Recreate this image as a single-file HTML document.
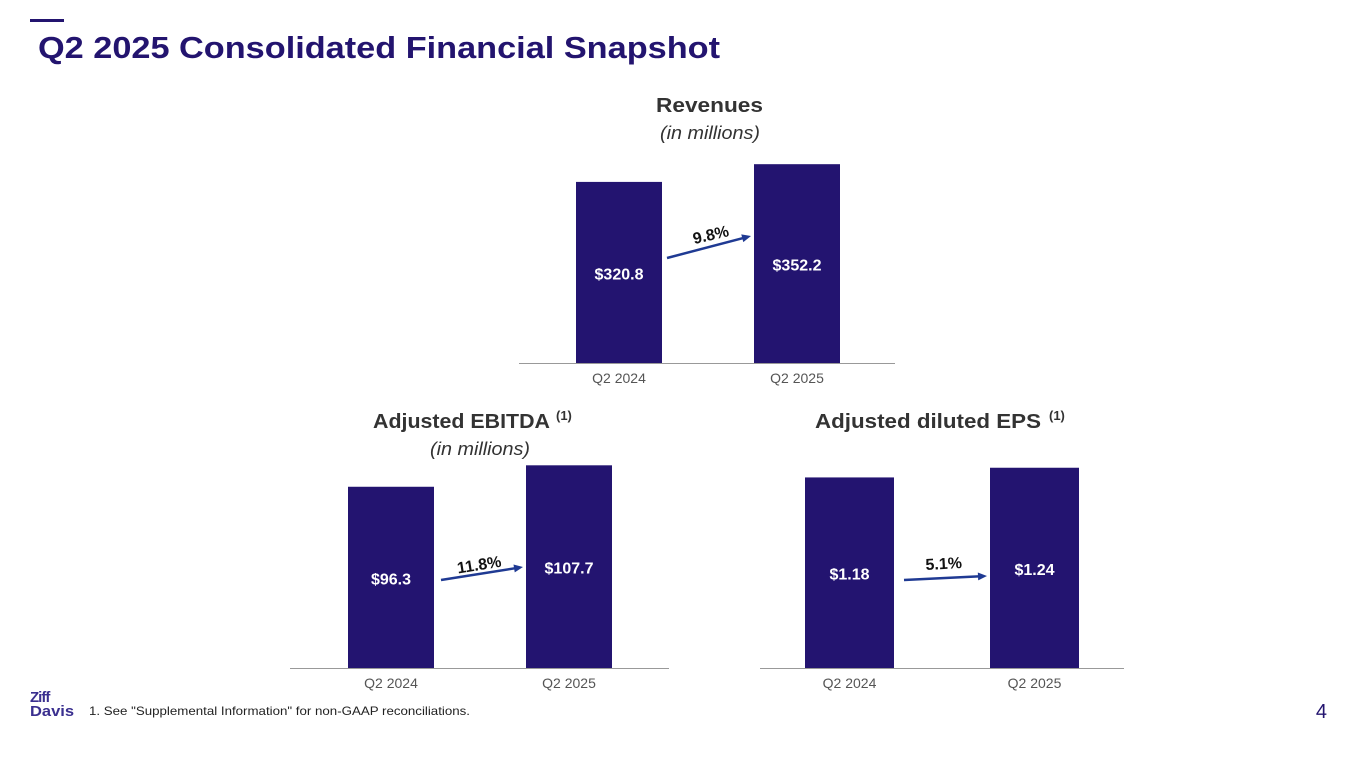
<!DOCTYPE html>
<html><head><meta charset="utf-8"><style>
body{margin:0;width:1365px;height:770px;background:#fff;overflow:hidden;font-family:"Liberation Sans",Arial,sans-serif}
svg{display:block}
svg text{font-family:"Liberation Sans",Arial,sans-serif}
</style></head><body>
<svg id="s" width="1365" height="770" xmlns="http://www.w3.org/2000/svg">
<rect x="30" y="19" width="34" height="3" fill="#23146f"/>
<text x="38" y="58" font-size="31" font-weight="bold" fill="#23146f" textLength="682" lengthAdjust="spacingAndGlyphs">Q2 2025 Consolidated Financial Snapshot</text>
<text x="656" y="112" font-size="20" font-weight="bold" fill="#333" textLength="107" lengthAdjust="spacingAndGlyphs">Revenues</text>
<text x="660" y="139" font-size="18" font-style="italic" fill="#333" textLength="100" lengthAdjust="spacingAndGlyphs">(in millions)</text>
<text x="373" y="428" font-size="20" font-weight="bold" fill="#333"><tspan textLength="177" lengthAdjust="spacingAndGlyphs">Adjusted EBITDA</tspan><tspan x="556" font-size="13" dy="-8">(1)</tspan></text>
<text x="430" y="455" font-size="18" font-style="italic" fill="#333" textLength="100" lengthAdjust="spacingAndGlyphs">(in millions)</text>
<text x="815" y="428" font-size="20" font-weight="bold" fill="#333"><tspan textLength="226" lengthAdjust="spacingAndGlyphs">Adjusted diluted EPS</tspan><tspan x="1049" font-size="13" dy="-8">(1)</tspan></text>
<text x="30" y="702" font-size="15" font-weight="bold" fill="#3a2f8f" letter-spacing="-1">Ziff</text>
<text x="30" y="716" font-size="15" font-weight="bold" fill="#3a2f8f" textLength="44" lengthAdjust="spacingAndGlyphs">Davis</text>
<text x="89" y="715" font-size="12" fill="#222" textLength="381" lengthAdjust="spacingAndGlyphs">1.  See "Supplemental Information" for non-GAAP reconciliations.</text>
<text x="1327" y="718" text-anchor="end" font-size="20" fill="#23146f">4</text>
<g id="charts"></g>
</svg>
<script>
const categories = ["Q2 2024","Q2 2025"];
const revenueValues = [320.8, 352.2];
const revenueLabels = ["$320.8","$352.2"];
const ebitdaValues = [96.3, 107.7];
const ebitdaLabels = ["$96.3","$107.7"];
const epsValues = [1.18, 1.24];
const epsLabels = ["$1.18","$1.24"];
const growthLabels = ["9.8%","11.8%","5.1%"];

const NS="http://www.w3.org/2000/svg";
const root=document.getElementById('charts');
function mk(tag,attrs,parent){const e=document.createElementNS(NS,tag);for(const k in attrs)e.setAttribute(k,attrs[k]);(parent||root).appendChild(e);return e;}

function drawChart(name,vals,labels,growth,cfg){
  const g=mk('g',{});
  
  
  const y=v=>cfg.base - v*cfg.scale;
  const ax=mk('line',{x1:cfg.ax0,x2:cfg.ax1,y1:cfg.base+0.5,y2:cfg.base+0.5,stroke:'#999','stroke-width':1},g);
  
  
  vals.forEach((v,i)=>{
    const x=cfg.bx[i], top=y(v);
    const r=mk('rect',{x:x,y:top,width:cfg.bw,height:cfg.base-top,fill:'#231470'},g);
    
    
    const t=mk('text',{x:x+cfg.bw/2,y:(top+cfg.base)/2+7,'text-anchor':'middle','font-size':16,'font-weight':'bold',fill:'#fff'},g);
    t.textContent=labels[i];
    
    
    const c=mk('text',{x:x+cfg.bw/2,y:cfg.base+20,'text-anchor':'middle','font-size':14,fill:'#555'},g);
    c.textContent=categories[i];
    
    
  });
  const a=cfg.arrow;
  const ln=mk('line',{x1:a[0],y1:a[1],x2:a[2]-6,y2:a[3]+(a[1]-a[3])*6/(a[2]-a[0]),stroke:'#1f3a93','stroke-width':2.5},g);
  
  
  const ang=Math.atan2(a[3]-a[1],a[2]-a[0]);
  const hx=a[2],hy=a[3],L=9,W=4;
  const p1=[hx-L*Math.cos(ang)+W*Math.sin(ang),hy-L*Math.sin(ang)-W*Math.cos(ang)];
  const p2=[hx-L*Math.cos(ang)-W*Math.sin(ang),hy-L*Math.sin(ang)+W*Math.cos(ang)];
  const hd=mk('polygon',{points:`${hx},${hy} ${p1} ${p2}`,fill:'#1f3a93'},g);
  
  
  const gt=mk('text',{x:cfg.gt[0],y:cfg.gt[1],'text-anchor':'middle','font-size':16,'font-weight':'bold',fill:'#111',transform:`rotate(${cfg.gt[2]} ${cfg.gt[0]} ${cfg.gt[1]})`},g);
  gt.textContent=growth;
  
  
}
drawChart('revenues',revenueValues,revenueLabels,growthLabels[0],{base:363,scale:0.5645,ax0:519,ax1:895,bx:[576,754],bw:86,arrow:[667,258,751,236],gt:[712,240,-13]});
drawChart('ebitda',ebitdaValues,ebitdaLabels,growthLabels[1],{base:668,scale:1.882,ax0:290,ax1:669,bx:[348,526],bw:86,arrow:[441,580,523,567],gt:[480,570,-9]});
drawChart('eps',epsValues,epsLabels,growthLabels[2],{base:668,scale:161.5,ax0:760,ax1:1124,bx:[805,990],bw:89,arrow:[904,580,987,576],gt:[944,569,-3]});
</script>
</body></html>
